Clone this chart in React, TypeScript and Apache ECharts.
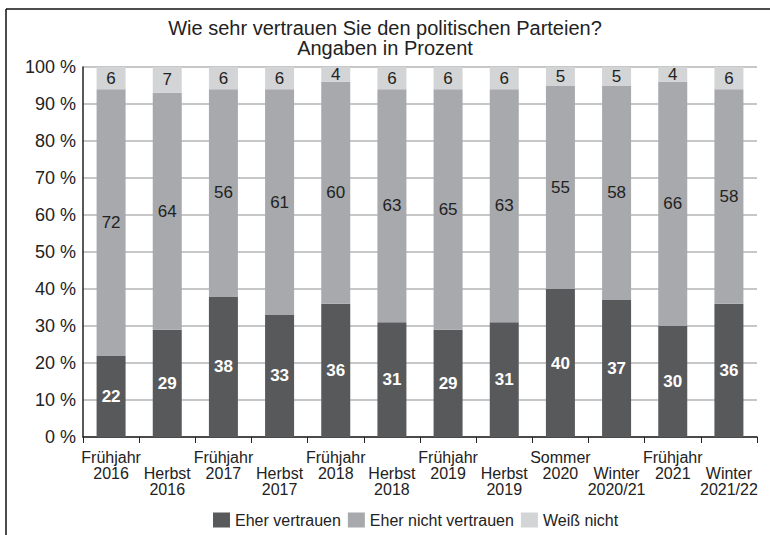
import React, { useEffect, useRef } from "react";
import * as echarts from "echarts";

const categories = [
  "Frühjahr\n2016",
  "Herbst\n2016",
  "Frühjahr\n2017",
  "Herbst\n2017",
  "Frühjahr\n2018",
  "Herbst\n2018",
  "Frühjahr\n2019",
  "Herbst\n2019",
  "Sommer\n2020",
  "Winter\n2020/21",
  "Frühjahr\n2021",
  "Winter\n2021/22",
];
const eherVertrauen = [22, 29, 38, 33, 36, 31, 29, 31, 40, 37, 30, 36];
const eherNichtVertrauen = [72, 64, 56, 61, 60, 63, 65, 63, 55, 58, 66, 58];
const weissNicht = [6, 7, 6, 6, 4, 6, 6, 6, 5, 5, 4, 6];
const seriesNames = ["Eher vertrauen", "Eher nicht vertrauen", "Weiß nicht"];
const colors = ["#58595b", "#a7a9ac", "#d3d4d5"];

const FONT = "'Liberation Sans', Arial, Helvetica, sans-serif";

export default function App() {
  const ref = useRef<HTMLDivElement>(null);
  useEffect(() => {
    if (!ref.current) return;
    const chart = echarts.init(ref.current, undefined, { renderer: "svg" });
    const mkLabel = (color: string, bold: boolean) => ({
      show: true,
      position: "inside",
      color,
      fontSize: 17,
      fontWeight: bold ? "bold" : "normal",
      fontFamily: FONT,
    });
    chart.setOption({
      animation: false,
      backgroundColor: "#ffffff",
      textStyle: { fontFamily: FONT },
      title: {
        text: "Wie sehr vertrauen Sie den politischen Parteien?\nAngaben in Prozent",
        left: 380,
        top: 13,
        textAlign: "center",
        textStyle: {
          fontSize: 20,
          fontWeight: "normal",
          color: "#222",
          lineHeight: 20,
          fontFamily: FONT,
        },
      },
      legend: {
        data: seriesNames,
        left: 208,
        top: 507,
        itemWidth: 17,
        itemHeight: 15,
        itemGap: 7,
        icon: "rect",
        textStyle: { fontSize: 16, color: "#222", fontFamily: FONT },
      },
      grid: { left: 83, right: 13, top: 67, bottom: 98, containLabel: false },
      xAxis: {
        type: "category",
        data: categories,
        axisLine: { lineStyle: { color: "#222", width: 1.5 } },
        axisTick: { show: true, length: 6, lineStyle: { color: "#222" } },
        axisLabel: {
          interval: 0,
          fontSize: 16,
          color: "#222",
          lineHeight: 16,
          margin: 12,
          fontFamily: FONT,
          formatter: (v: string, i: number) => (i % 2 === 1 ? "\n" + v : v),
        },
      },
      yAxis: {
        type: "value",
        min: 0,
        max: 100,
        interval: 10,
        axisLine: { show: true, lineStyle: { color: "#222", width: 1.5 } },
        axisTick: { show: false },
        axisLabel: {
          formatter: "{value} %",
          fontSize: 18,
          color: "#222",
          margin: 7,
          fontFamily: FONT,
        },
        splitLine: { lineStyle: { color: "#b5b5b5", width: 1.5 } },
      },
      series: [
        {
          name: seriesNames[0],
          type: "bar",
          stack: "total",
          data: eherVertrauen,
          barWidth: 29,
          itemStyle: { color: colors[0] },
          label: mkLabel("#ffffff", true),
        },
        {
          name: seriesNames[1],
          type: "bar",
          stack: "total",
          data: eherNichtVertrauen,
          barWidth: 29,
          itemStyle: { color: colors[1] },
          label: mkLabel("#222", false),
        },
        {
          name: seriesNames[2],
          type: "bar",
          stack: "total",
          data: weissNicht,
          barWidth: 29,
          itemStyle: { color: colors[2] },
          label: mkLabel("#222", false),
        },
      ],
      graphic: [
        {
          type: "line",
          shape: { x1: 6, y1: 9, x2: 770, y2: 9 },
          style: { stroke: "#111", lineWidth: 1.5 },
        },
        {
          type: "line",
          shape: { x1: 6, y1: 9, x2: 6, y2: 535 },
          style: { stroke: "#111", lineWidth: 1.5 },
        },
      ],
    });
    return () => chart.dispose();
  }, []);
  return (
    <div
      ref={ref}
      style={{ position: "fixed", left: 0, top: 0, width: 770, height: 535 }}
    />
  );
}
